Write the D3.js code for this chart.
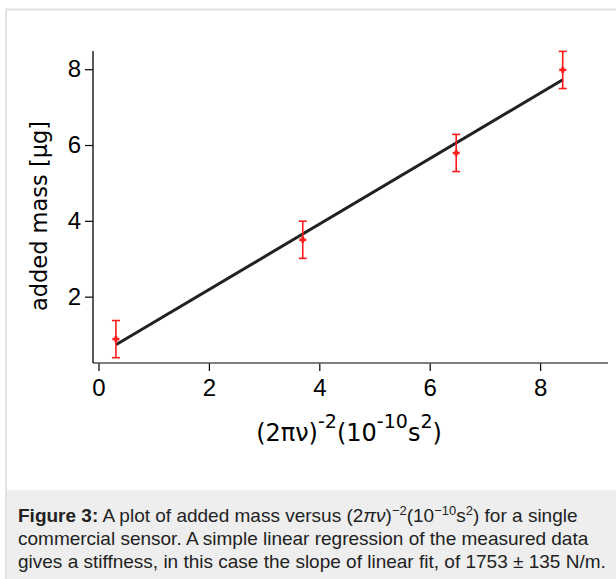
<!DOCTYPE html>
<html>
<head>
<meta charset="utf-8">
<script src="https://cdn.jsdelivr.net/npm/d3@7"></script>
<style>
  body { margin: 0; background: #fff; }
  svg { display: block; }
</style>
</head>
<body>
<div id="chart"></div>
<script>
var width = 616,
    height = 579;

// measured points
var xs = [0.315, 3.70, 6.48, 8.41];
var ys = [0.88, 3.50, 5.79, 7.98];
var errs = [0.49, 0.49, 0.49, 0.49];

// linear fit end points
var fitX = [0.315, 8.41];
var fitY = [0.73, 7.72];

var xTicks = [0, 2, 4, 6, 8];
var yTicks = [2, 4, 6, 8];

var colors = {
  err: "#ff1a1a",
  fit: "#222222",
  axis: "#000",
  border: "#e2e2e2",
  caption: "#eeeeee"
};

var font = "'Liberation Sans', Arial, Helvetica, sans-serif";
var wideFont = "'DejaVu Sans', Verdana, sans-serif";

var svg = d3.select("#chart").append("svg")
    .attr("width", width)
    .attr("height", height);

// figure frame + caption panel
svg.append("rect")
    .attr("x", 6).attr("y", 9.5)
    .attr("width", 620).attr("height", 580)
    .style("fill", "#fff")
    .style("stroke", colors.border)
    .style("stroke-width", 2);

svg.append("rect")
    .attr("x", 7).attr("y", 490)
    .attr("width", 609).attr("height", 89)
    .style("fill", colors.caption);

var x = d3.scaleLinear().domain([-0.1, 9.23]).range([93, 608]);
var y = d3.scaleLinear().domain([0.25, 8.48]).range([363, 51]);

// axes
var xAxis = svg.append("g")
    .attr("transform", "translate(0," + y.range()[0] + ")")
    .call(d3.axisBottom(x).tickValues(xTicks).tickSize(8).tickPadding(5).tickFormat(d3.format("d")));
var yAxis = svg.append("g")
    .attr("transform", "translate(" + x.range()[0] + ",0)")
    .call(d3.axisLeft(y).tickValues(yTicks).tickSize(8).tickPadding(4).tickFormat(d3.format("d")));

[xAxis, yAxis].forEach(function(g){
  g.select(".domain").attr("d", null);
  g.selectAll(".tick line").style("stroke", colors.axis).style("stroke-width", 1.2);
  g.selectAll(".tick text")
    .style("font-family", font)
    .style("font-size", "24px")
    .style("fill", "#000");
});
xAxis.selectAll(".tick text").attr("dy", "0.85em");

svg.append("line")
    .attr("x1", x.range()[0]).attr("x2", x.range()[1])
    .attr("y1", y.range()[0]).attr("y2", y.range()[0])
    .style("stroke", "#555").style("stroke-width", 1.5);
svg.append("line")
    .attr("x1", x.range()[0]).attr("x2", x.range()[0])
    .attr("y1", y.range()[0]).attr("y2", y.range()[1])
    .style("stroke", "#222").style("stroke-width", 1.5);

// axis titles
var xt = svg.append("text")
    .attr("x", 349).attr("y", 441)
    .attr("text-anchor", "middle")
    .style("font-family", wideFont)
    .style("font-size", "24px");
xt.append("tspan").text("(2πν)");
xt.append("tspan").attr("dy", -13).style("font-size", "19px").text("-2");
xt.append("tspan").attr("dy", 13).text("(10");
xt.append("tspan").attr("dy", -13).style("font-size", "19px").text("-10");
xt.append("tspan").attr("dy", 13).text("s");
xt.append("tspan").attr("dy", -13).style("font-size", "19px").text("2");
xt.append("tspan").attr("dy", 13).text(")");

svg.append("text")
    .attr("transform", "translate(47,216) rotate(-90)")
    .attr("text-anchor", "middle")
    .style("font-family", wideFont)
    .style("font-size", "22.5px")
    .text("added mass [µg]");

// fit line
var fitData = fitX.map(function(v, i){ return [v, fitY[i]]; });
svg.append("path")
    .datum(fitData)
    .attr("d", d3.line().x(function(d){ return x(d[0]); }).y(function(d){ return y(d[1]); }))
    .style("fill", "none")
    .style("stroke", colors.fit)
    .style("stroke-width", 3);

// error bars
var pts = xs.map(function(v, i){ return { x: v, y: ys[i], e: errs[i] }; });
var eb = svg.selectAll("g.err").data(pts).enter().append("g")
    .attr("class", "err")
    .style("stroke", colors.err)
    .style("stroke-width", 1.6);

eb.append("line")
    .attr("x1", function(d){ return x(d.x); }).attr("x2", function(d){ return x(d.x); })
    .attr("y1", function(d){ return y(d.y - d.e); }).attr("y2", function(d){ return y(d.y + d.e); });
[-1, 1].forEach(function(s){
  eb.append("line")
    .attr("x1", function(d){ return x(d.x) - 4; }).attr("x2", function(d){ return x(d.x) + 4; })
    .attr("y1", function(d){ return y(d.y + s * d.e); }).attr("y2", function(d){ return y(d.y + s * d.e); });
});
// centre markers
eb.append("line")
    .attr("x1", function(d){ return x(d.x) - 3.5; }).attr("x2", function(d){ return x(d.x) + 3.5; })
    .attr("y1", function(d){ return y(d.y); }).attr("y2", function(d){ return y(d.y); })
    .style("stroke-width", 2.5);
eb.append("line")
    .attr("x1", function(d){ return x(d.x); }).attr("x2", function(d){ return x(d.x); })
    .attr("y1", function(d){ return y(d.y) - 3; }).attr("y2", function(d){ return y(d.y) + 3; })
    .style("stroke-width", 2.8);

// caption
var cap = svg.append("g")
    .style("font-family", font)
    .style("font-size", "19px")
    .style("fill", "#222");

var l1 = cap.append("text").attr("x", 18).attr("y", 522);
l1.append("tspan").style("font-weight", "bold").text("Figure 3:");
l1.append("tspan").text(" A plot of added mass versus (2");
l1.append("tspan").style("font-style", "italic").text("πν");
l1.append("tspan").text(")");
l1.append("tspan").attr("dy", -7).style("font-size", "13px").text("−2");
l1.append("tspan").attr("dy", 7).text("(10");
l1.append("tspan").attr("dy", -7).style("font-size", "13px").text("−10");
l1.append("tspan").attr("dy", 7).text("s");
l1.append("tspan").attr("dy", -7).style("font-size", "13px").text("2");
l1.append("tspan").attr("dy", 7).text(") for a single");

cap.append("text").attr("x", 18).attr("y", 545)
    .text("commercial sensor. A simple linear regression of the measured data");
cap.append("text").attr("x", 18).attr("y", 568)
    .text("gives a stiffness, in this case the slope of linear fit, of 1753 ± 135 N/m.");
</script>
</body>
</html>
